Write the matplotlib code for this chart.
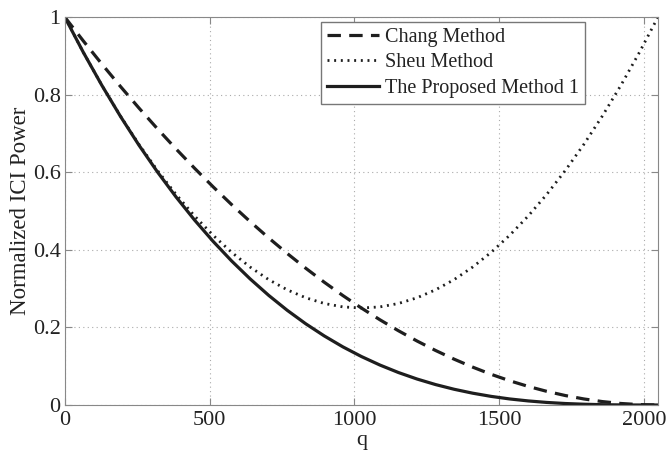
import numpy as np
import matplotlib
matplotlib.use("Agg")
import matplotlib.pyplot as plt

plt.rcParams['font.family'] = ['Liberation Serif', 'DejaVu Serif']

# q samples (step 64 up to 2048)
q = [0, 64, 128, 192, 256, 320, 384, 448, 512, 576, 640, 704, 768, 832, 896, 960,
     1024, 1088, 1152, 1216, 1280, 1344, 1408, 1472, 1536, 1600, 1664, 1728, 1792,
     1856, 1920, 1984, 2048]

# values
chang = [1.0, 0.9385, 0.8789, 0.8213, 0.7656, 0.7119, 0.6602, 0.6104, 0.5625, 0.5166,
         0.4727, 0.4307, 0.3906, 0.3525, 0.3164, 0.2822, 0.25, 0.2197, 0.1914, 0.1650,
         0.1406, 0.1182, 0.0977, 0.0791, 0.0625, 0.0479, 0.0352, 0.0244, 0.0156,
         0.0088, 0.0039, 0.0010, 0.0]
sheu = [1.0, 0.9092, 0.8242, 0.7451, 0.6719, 0.6045, 0.5430, 0.4873, 0.4375, 0.3936,
        0.3555, 0.3232, 0.2969, 0.2764, 0.2617, 0.2529, 0.25, 0.2529, 0.2617, 0.2764,
        0.2969, 0.3232, 0.3555, 0.3936, 0.4375, 0.4873, 0.5430, 0.6045, 0.6719,
        0.7451, 0.8242, 0.9092, 1.0]
proposed = [1.0, 0.9091, 0.8240, 0.7443, 0.6699, 0.6007, 0.5364, 0.4768, 0.4219, 0.3713,
            0.3250, 0.2826, 0.2441, 0.2093, 0.1780, 0.1499, 0.125, 0.1030, 0.0837,
            0.0670, 0.0527, 0.0406, 0.0305, 0.0222, 0.0156, 0.0105, 0.0066, 0.0038,
            0.0020, 0.0008, 0.0002, 0.0, 0.0]

labels = ['Chang Method', 'Sheu Method', 'The Proposed Method 1']
txt = '#222222'

fig = plt.figure(figsize=(6.68, 4.5), dpi=100)
ax = fig.add_axes([0.097, 0.1, 0.888, 0.862])

ax.plot(q, chang, color='#1e1e1e', lw=2.3, linestyle=(0, (4.2, 2.6)), label=labels[0])
ax.plot(q, sheu, color='#1e1e1e', lw=2.0, linestyle=(0, (0.7, 1.7)), label=labels[1])
ax.plot(q, proposed, color='#1e1e1e', lw=2.3, linestyle='-', label=labels[2])

ax.set_xlim(0, 2048)
ax.set_ylim(0, 1)
ax.set_xticks([0, 500, 1000, 1500, 2000])
ax.set_yticks([0, 0.2, 0.4, 0.6, 0.8, 1])
ax.set_yticklabels(['0', '0.2', '0.4', '0.6', '0.8', '1'])
ax.grid(True, color='#aaaaaa', linestyle=(0, (1, 3)), lw=0.8)
ax.tick_params(direction='in', top=True, right=True, labelsize=16, colors='#888888',
               labelcolor=txt, length=5)
ax.tick_params(axis='x', pad=4)
ax.tick_params(axis='y', pad=3)
for s in ax.spines.values():
    s.set_color('#888888')
ax.set_xlabel('q', fontsize=16, color=txt, labelpad=1)
ax.set_ylabel('Normalized ICI Power', fontsize=16.5, color=txt, labelpad=1)

leg = ax.legend(loc='upper right', bbox_to_anchor=(0.877, 0.987), borderaxespad=0,
                fontsize=14.5, handlelength=2.6, handletextpad=0.3, borderpad=0.3,
                labelspacing=0.3, fancybox=False, framealpha=1, edgecolor='#777777')
for t in leg.get_texts():
    t.set_color(txt)

fig.savefig('out.png', dpi=100)
